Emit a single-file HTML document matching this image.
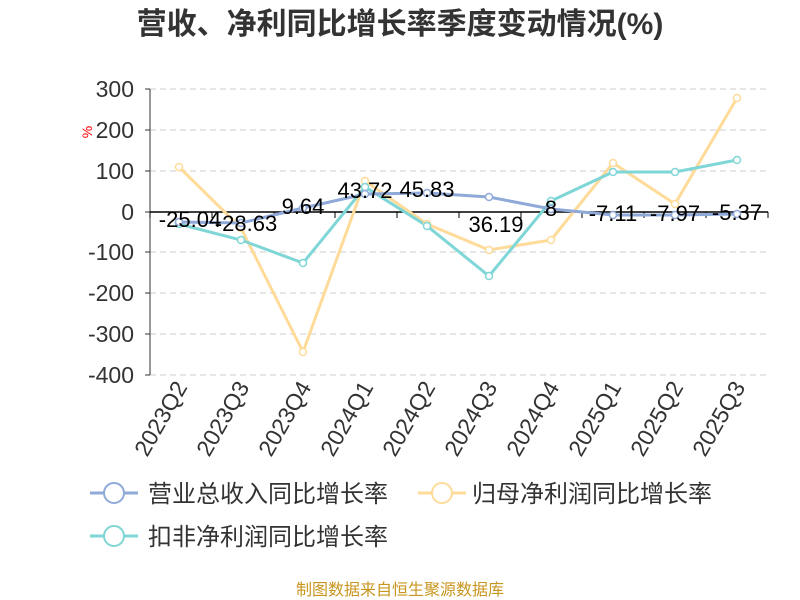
<!DOCTYPE html>
<html><head><meta charset="utf-8"><style>
body{margin:0;background:#fff;}
svg{display:block;font-family:"Liberation Sans","Noto Sans CJK SC",sans-serif;}
</style></head><body>
<svg width="800" height="600" viewBox="0 0 800 600">
<rect width="800" height="600" fill="#fff"/>
<text x="400" y="34" text-anchor="middle" font-size="30" font-weight="bold" fill="#333">营收、净利同比增长率季度变动情况(%)</text>
<g stroke="#ccc" stroke-dasharray="6,4" stroke-width="1">
<line x1="150" x2="768" y1="89" y2="89"/><line x1="150" x2="768" y1="130" y2="130"/>
<line x1="150" x2="768" y1="171" y2="171"/><line x1="150" x2="768" y1="252" y2="252"/>
<line x1="150" x2="768" y1="293" y2="293"/><line x1="150" x2="768" y1="334" y2="334"/>
<line x1="150" x2="768" y1="375" y2="375"/>
</g>
<line x1="150" x2="150" y1="89" y2="375" stroke="#333"/>
<g stroke="#333"><line x1="145" x2="150" y1="89" y2="89"/><line x1="145" x2="150" y1="130" y2="130"/><line x1="145" x2="150" y1="171" y2="171"/><line x1="145" x2="150" y1="212" y2="212"/><line x1="145" x2="150" y1="252" y2="252"/><line x1="145" x2="150" y1="293" y2="293"/><line x1="145" x2="150" y1="334" y2="334"/><line x1="145" x2="150" y1="375" y2="375"/></g>
<line x1="150" x2="768" y1="212" y2="212" stroke="#000" stroke-width="1.5"/>
<g stroke="#000"><line x1="150" x2="150" y1="212" y2="218"/><line x1="212" x2="212" y1="212" y2="218"/><line x1="274" x2="274" y1="212" y2="218"/><line x1="335" x2="335" y1="212" y2="218"/><line x1="397" x2="397" y1="212" y2="218"/><line x1="459" x2="459" y1="212" y2="218"/><line x1="521" x2="521" y1="212" y2="218"/><line x1="582" x2="582" y1="212" y2="218"/><line x1="644" x2="644" y1="212" y2="218"/><line x1="706" x2="706" y1="212" y2="218"/><line x1="768" x2="768" y1="212" y2="218"/></g>
<g font-size="23" fill="#333" text-anchor="end">
<text x="134" y="97">300</text><text x="134" y="138">200</text><text x="134" y="179">100</text><text x="134" y="220">0</text><text x="134" y="260">-100</text><text x="134" y="301">-200</text><text x="134" y="342">-300</text><text x="134" y="383">-400</text>
</g>
<text x="92" y="132" font-size="14" fill="red" transform="rotate(-90 92 132)" text-anchor="middle">%</text>
<g font-size="23" fill="#333" text-anchor="end">
<text transform="translate(188,387) rotate(-60)">2023Q2</text>
<text transform="translate(250,387) rotate(-60)">2023Q3</text>
<text transform="translate(312,387) rotate(-60)">2023Q4</text>
<text transform="translate(374,387) rotate(-60)">2024Q1</text>
<text transform="translate(436,387) rotate(-60)">2024Q2</text>
<text transform="translate(498,387) rotate(-60)">2024Q3</text>
<text transform="translate(560,387) rotate(-60)">2024Q4</text>
<text transform="translate(622,387) rotate(-60)">2025Q1</text>
<text transform="translate(684,387) rotate(-60)">2025Q2</text>
<text transform="translate(746,387) rotate(-60)">2025Q3</text>
</g>
<g fill="none" stroke-width="3">
<polyline stroke="#ffdb9a" points="179,167 241,228 303,352 365,181 427,224 489,250 551,240 613,163 675,204 737,98"/>
<polyline stroke="#7fd6d6" points="179,224 241,240 303,263 365,187 427,226 489,276 551,201 613,172 675,172 737,160"/>
<polyline stroke="#8fa9d9" points="179,222 241,223 303,208 365,194 427,193 489,197 551,209 613,215 675,215 737,214"/>
</g>
<g fill="#fff" stroke-width="1.5">
<g stroke="#ffdb9a"><circle cx="179" cy="167" r="3.5"/><circle cx="241" cy="228" r="3.5"/><circle cx="303" cy="352" r="3.5"/><circle cx="365" cy="181" r="3.5"/><circle cx="427" cy="224" r="3.5"/><circle cx="489" cy="250" r="3.5"/><circle cx="551" cy="240" r="3.5"/><circle cx="613" cy="163" r="3.5"/><circle cx="675" cy="204" r="3.5"/><circle cx="737" cy="98" r="3.5"/></g>
<g stroke="#7fd6d6"><circle cx="179" cy="224" r="3.5"/><circle cx="241" cy="240" r="3.5"/><circle cx="303" cy="263" r="3.5"/><circle cx="365" cy="187" r="3.5"/><circle cx="427" cy="226" r="3.5"/><circle cx="489" cy="276" r="3.5"/><circle cx="551" cy="201" r="3.5"/><circle cx="613" cy="172" r="3.5"/><circle cx="675" cy="172" r="3.5"/><circle cx="737" cy="160" r="3.5"/></g>
<g stroke="#8fa9d9"><circle cx="179" cy="222" r="3.5"/><circle cx="241" cy="223" r="3.5"/><circle cx="303" cy="208" r="3.5"/><circle cx="365" cy="194" r="3.5"/><circle cx="427" cy="193" r="3.5"/><circle cx="489" cy="197" r="3.5"/><circle cx="551" cy="209" r="3.5"/><circle cx="613" cy="215" r="3.5"/><circle cx="675" cy="215" r="3.5"/><circle cx="737" cy="214" r="3.5"/></g>
</g>
<g font-size="22" fill="#000" text-anchor="middle">
<text x="190" y="227">-25.04</text><text x="246" y="231">-28.63</text><text x="303" y="214">9.64</text><text x="365" y="198">43.72</text><text x="427" y="197">45.83</text><text x="496" y="232">36.19</text><text x="551" y="216">8</text><text x="613" y="221">-7.11</text><text x="675" y="221">-7.97</text><text x="737" y="220">-5.37</text>
</g>
<g stroke-width="3" fill="#fff">
<line x1="90" x2="138" y1="493" y2="493" stroke="#8fa9d9"/><circle cx="114" cy="493" r="10" stroke="#8fa9d9" stroke-width="2"/>
<line x1="418" x2="466" y1="493" y2="493" stroke="#ffdb9a"/><circle cx="442" cy="493" r="10" stroke="#ffdb9a" stroke-width="2"/>
<line x1="90" x2="138" y1="536" y2="536" stroke="#7fd6d6"/><circle cx="114" cy="536" r="10" stroke="#7fd6d6" stroke-width="2"/>
</g>
<g font-size="24" fill="#333">
<text x="148" y="502">营业总收入同比增长率</text>
<text x="472" y="502">归母净利润同比增长率</text>
<text x="148" y="545">扣非净利润同比增长率</text>
</g>
<text x="400" y="595" text-anchor="middle" font-size="16" fill="#c8961e">制图数据来自恒生聚源数据库</text>
</svg>
</body></html>
